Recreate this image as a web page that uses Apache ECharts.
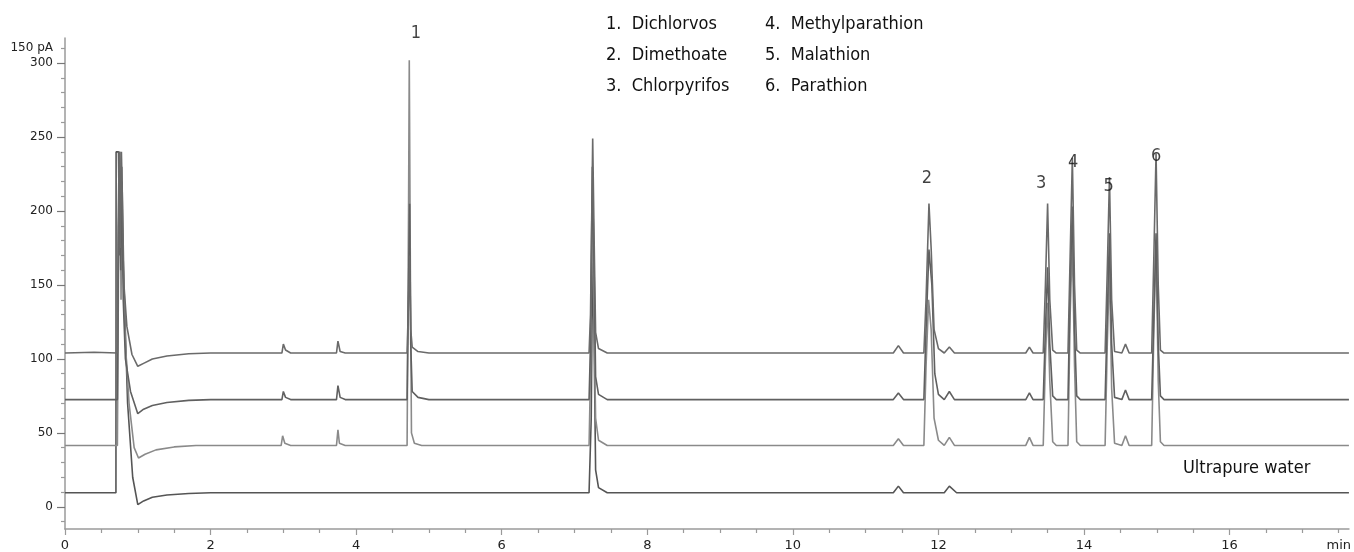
<!DOCTYPE html>
<html>
<head>
<meta charset="utf-8">
<script src="https://cdn.jsdelivr.net/npm/echarts@6/dist/echarts.min.js"></script>
<style>
html,body{margin:0;padding:0;background:#fff;}
#chart{width:1354px;height:552px;}
</style>
</head>
<body>
<div id="chart"></div>
<script>
// ---- data (time in min, signal in pA-axis units) ----
var trace1 = [
[0,104],[0.4,104.5],[0.72,104],[0.73,190],[0.745,240],[0.76,175],[0.775,240],[0.79,205],[0.81,150],[0.85,122],[0.92,103],[1.0,95],[1.08,97],[1.2,100],[1.4,102],[1.7,103.5],[2.0,104],
[2.98,104],[3.0,110],[3.03,106],[3.1,104],[3.73,104],[3.75,112],[3.78,105],[3.85,104],
[4.70,104],[4.72,140],[4.735,170],[4.75,120],[4.77,108],[4.85,105],[5.0,104],
[7.20,104],[7.22,130],[7.25,249],[7.27,180],[7.29,118],[7.33,107],[7.45,104],
[11.38,104],[11.45,109],[11.52,104],[11.80,104],[11.83,140],[11.87,205],[11.90,175],[11.94,120],[12.0,107],[12.08,104],[12.15,108],[12.22,104],
[13.2,104],[13.25,108],[13.3,104],[13.44,104],[13.47,150],[13.5,205],[13.53,140],[13.57,106],[13.62,104],
[13.78,104],[13.81,170],[13.84,236],[13.87,150],[13.9,106],[13.95,104],
[14.29,104],[14.32,160],[14.35,223],[14.38,140],[14.42,105],[14.52,104],[14.57,110],[14.62,104],
[14.93,104],[14.96,170],[14.99,239],[15.02,150],[15.05,106],[15.1,104],
[17.64,104]
];
var trace2 = [
[0,72.5],[0.72,72.5],[0.735,180],[0.75,240],[0.765,160],[0.78,230],[0.80,140],[0.83,100],[0.9,78],[1.0,63],[1.08,66],[1.2,68.5],[1.4,70.5],[1.7,72],[2.0,72.5],
[2.98,72.5],[3.0,78],[3.03,74],[3.1,72.5],[3.73,72.5],[3.75,82],[3.78,74],[3.85,72.5],
[4.70,72.5],[4.72,150],[4.735,205],[4.75,110],[4.77,78],[4.85,74],[5.0,72.5],
[7.20,72.5],[7.22,110],[7.245,230],[7.27,160],[7.29,88],[7.33,76],[7.45,72.5],
[11.38,72.5],[11.45,77],[11.52,72.5],[11.80,72.5],[11.83,120],[11.87,174],[11.91,150],[11.95,90],[12.0,76],[12.08,72.5],[12.15,78],[12.22,72.5],
[13.2,72.5],[13.25,77],[13.3,72.5],[13.44,72.5],[13.47,120],[13.5,162],[13.53,110],[13.57,75],[13.62,72.5],
[13.78,72.5],[13.81,150],[13.84,203],[13.87,120],[13.9,75],[13.95,72.5],
[14.29,72.5],[14.32,130],[14.35,185],[14.38,110],[14.42,74],[14.52,72.5],[14.57,79],[14.62,72.5],
[14.93,72.5],[14.96,130],[14.99,185],[15.02,110],[15.05,75],[15.1,72.5],
[17.64,72.5]
];
var trace3 = [
[0,41.5],[0.72,41.5],[0.74,200],[0.755,240],[0.77,140],[0.785,220],[0.80,160],[0.83,110],[0.88,70],[0.95,40],[1.01,33],[1.1,35.5],[1.25,38.5],[1.5,40.5],[1.8,41.5],
[2.97,41.5],[2.99,48],[3.02,43],[3.1,41.5],[3.73,41.5],[3.75,52],[3.77,43],[3.85,41.5],
[4.70,41.5],[4.72,200],[4.73,302],[4.745,160],[4.76,50],[4.8,43],[4.9,41.5],
[7.20,41.5],[7.22,90],[7.245,210],[7.265,140],[7.29,60],[7.33,45],[7.45,41.5],
[11.38,41.5],[11.45,46],[11.52,41.5],[11.80,41.5],[11.83,95],[11.865,140],[11.90,120],[11.94,60],[12.0,45],[12.08,41.5],[12.15,47],[12.22,41.5],
[13.2,41.5],[13.25,47],[13.3,41.5],[13.44,41.5],[13.47,100],[13.5,138],[13.53,85],[13.57,44],[13.62,41.5],
[13.78,41.5],[13.81,130],[13.84,180],[13.87,95],[13.9,44],[13.95,41.5],
[14.29,41.5],[14.32,110],[14.35,162],[14.38,80],[14.42,43],[14.52,41.5],[14.57,48],[14.62,41.5],
[14.93,41.5],[14.96,120],[14.99,180],[15.02,85],[15.05,44],[15.1,41.5],
[17.64,41.5]
];
var waterTrace = [
[0,9.5],[0.70,9.5],[0.702,240],[0.735,240],[0.75,170],[0.78,200],[0.81,150],[0.86,70],[0.93,20],[1.0,1.5],[1.08,4],[1.2,6.5],[1.4,8],[1.7,9],[2.0,9.5],
[7.20,9.5],[7.23,60],[7.25,175],[7.27,110],[7.29,25],[7.33,13],[7.45,9.5],
[11.38,9.5],[11.45,14],[11.52,9.5],[12.08,9.5],[12.15,14],[12.25,9.5],
[17.64,9.5]
];
var peakLabels = ['1','2','3','4','5','6'];
var peakLabelTimes = [4.82, 11.84, 13.41, 13.85, 14.34, 14.99];
var peakLabelValues = [320, 222, 219, 233, 217, 237];
var compoundNames = ['Dichlorvos','Dimethoate','Chlorpyrifos','Methylparathion','Malathion','Parathion'];
var xMajorTicks = [0,2,4,6,8,10,12,14,16];
var xLabelValues = [0,2,4,6,8,10,12,14,16,17.5];
var xMinorTicks = [0.5,1,1.5,2.5,3,3.5,4.5,5,5.5,6.5,7,7.5,8.5,9,9.5,10.5,11,11.5,12.5,13,13.5,14.5,15,15.5,16.5,17,17.5];
var yMajorTicks = [0,50,100,150,200,250,300];
var yMinorTicks = [-10,10,20,30,40,60,70,80,90,110,120,130,140,160,170,180,190,210,220,230,240,260,270,280,290,310];
var yUnitLabelValue = 310;
var traceNote = 'Ultrapure water';

// ---- chart ----
var chart = echarts.init(document.getElementById('chart'));
var narrow = "'Liberation Sans Narrow','DejaVu Sans Condensed','Roboto Condensed',sans-serif";
var axisColor = '#9a9a9a';
var X_MIN = 0, X_MAX = 17.64, Y_MIN = -15, Y_MAX = 317;

function lineSeries(data, color) {
  return {type:'line', data:data, xAxisIndex:0, yAxisIndex:0, showSymbol:false, symbol:'none',
    lineStyle:{color:color, width:1.6}, silent:true, z:2};
}

var legendGraphics = [];
for (var i = 0; i < compoundNames.length; i++) {
  var col = Math.floor(i / 3), row = i % 3;
  legendGraphics.push({type:'text', left: col === 0 ? 606 : 765, top: 15 + row * 31,
    style:{text:(i+1) + '.  ' + compoundNames[i], font:'18px ' + narrow, fill:'#111'}});
}
legendGraphics.push({type:'text', left:1183, top:459,
  style:{text:traceNote, font:'18px ' + narrow, fill:'#111'}});

var labelData = peakLabels.map(function(n, i){ return {name:n, value:[peakLabelTimes[i], peakLabelValues[i]]}; });

chart.setOption({
  animation:false,
  backgroundColor:'#ffffff',
  grid:{left:65, right:0, top:38, bottom:22.5, containLabel:false},
  xAxis:[
    {type:'value', min:X_MIN, max:X_MAX, position:'bottom',
     axisLine:{show:true, onZero:false, lineStyle:{color:axisColor, width:1.5}},
     axisTick:{show:true, length:6, customValues:xMajorTicks, lineStyle:{color:axisColor, width:1.2}},
     axisLabel:{show:true, margin:10, customValues:xLabelValues, color:'#222', fontFamily:'DejaVu Sans', fontSize:13,
       formatter:function(v){ return v === 17.5 ? 'min' : String(v); }},
     splitLine:{show:false}},
    {type:'value', min:X_MIN, max:X_MAX, position:'bottom',
     axisLine:{show:false, onZero:false},
     axisTick:{show:true, length:4, customValues:xMinorTicks, lineStyle:{color:axisColor, width:1.2}},
     axisLabel:{show:false}, splitLine:{show:false}}
  ],
  yAxis:[
    {type:'value', min:Y_MIN, max:Y_MAX, position:'left',
     axisLine:{show:true, onZero:false, lineStyle:{color:axisColor, width:1.5}},
     axisTick:{show:true, length:8, customValues:yMajorTicks, lineStyle:{color:'#777', width:1.2}},
     axisLabel:{show:true, margin:12, customValues:yMajorTicks, color:'#222', fontFamily:'DejaVu Sans', fontSize:12},
     splitLine:{show:false}},
    {type:'value', min:Y_MIN, max:Y_MAX, position:'left',
     axisLine:{show:false, onZero:false},
     axisTick:{show:true, length:4, customValues:yMinorTicks, lineStyle:{color:axisColor, width:1.2}},
     axisLabel:{show:true, margin:12, customValues:[yUnitLabelValue], color:'#222', fontFamily:'DejaVu Sans', fontSize:12,
       formatter:function(){ return '150 pA'; }, padding:[0,0,5,0]},
     splitLine:{show:false}}
  ],
  series:[
    lineSeries(waterTrace, '#555555'),
    lineSeries(trace3, '#8a8a8a'),
    lineSeries(trace2, '#606060'),
    lineSeries(trace1, '#6a6a6a'),
    {type:'scatter', data:labelData, symbolSize:0, xAxisIndex:0, yAxisIndex:0, silent:true, z:5, clip:false,
     label:{show:true, position:'inside', formatter:'{b}', color:'#111', fontSize:18, fontFamily:narrow}}
  ],
  graphic:legendGraphics
});
</script>
</body>
</html>
